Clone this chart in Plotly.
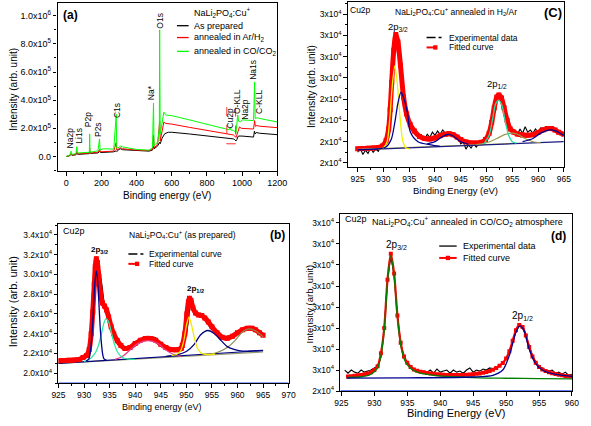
import numpy as np
import plotly.graph_objects as go

W, H = 591, 426
FONT = "Liberation Sans, Arial, sans-serif"

# ---------------- Panel (a): survey spectra (y in units of 1e5) ----------------
a_black_x = [0, 20, 28, 32, 55, 60, 65, 100, 130, 133, 137, 180, 190, 195, 230, 270, 283, 287, 300, 308, 320, 400, 470,
             490, 495, 500, 520, 530, 534, 545, 560, 580, 600, 700, 800, 900, 950, 958, 965, 970, 978, 1000, 1065, 1070,
             1074, 1080, 1100, 1200]
a_black_y = [0.0, 0.05, 0.15, 0.08, 0.12, 0.25, 0.15, 0.18, 0.2, 0.35, 0.22, 0.25, 0.35, 0.28, 0.3, 0.33, 0.4, 0.35, 0.5,
             0.55, 0.48, 0.4, 0.38, 0.45, 0.7, 0.55, 0.75, 1.0, 0.9, 1.3, 1.62, 1.72, 1.72, 1.6, 1.47, 1.33, 1.25, 1.2, 1.1,
             1.2, 1.45, 1.45, 1.38, 1.8, 1.6, 1.7, 1.65, 1.55]
a_red_x = [0, 20, 28, 32, 55, 60, 65, 100, 132, 133, 135, 180, 190, 195, 230, 270, 284, 287, 300, 308, 320, 400, 470, 490,
           496, 500, 520, 531, 534, 545, 555, 565, 600, 700, 800, 900, 950, 958, 965, 972, 985, 995, 1065, 1071, 1075,
           1085, 1100, 1200]
a_red_y = [0.0, 0.08, 0.2, 0.1, 0.15, 0.35, 0.18, 0.2, 0.25, 0.6, 0.25, 0.3, 0.5, 0.33, 0.35, 0.38, 1.0, 0.45, 0.55, 0.62,
           0.55, 0.45, 0.42, 0.5, 1.5, 0.6, 0.9, 2.5, 1.1, 1.8, 2.45, 2.35, 2.3, 2.07, 1.85, 1.65, 1.53, 1.45, 1.35, 1.6,
           2.1, 2.0, 1.95, 2.55, 2.15, 2.2, 2.15, 2.05]
a_green_x = [0, 20, 27, 30, 55, 60, 64, 100, 131, 133, 135, 180, 189, 192, 210, 270, 284, 287, 300, 308, 320, 400, 470,
             490, 496, 499, 520, 529, 531, 534, 548, 555, 565, 600, 700, 800, 900, 925, 932, 936, 950, 958, 965, 970,
             975, 980, 990, 1000, 1065, 1071, 1074, 1085, 1100, 1200]
a_green_y = [0.0, 0.1, 0.38, 0.15, 0.2, 0.7, 0.25, 0.25, 0.3, 1.6, 0.3, 0.4, 1.25, 0.45, 0.55, 0.52, 3.0, 0.6, 0.65, 0.75,
             0.68, 0.5, 0.45, 0.6, 3.8, 0.8, 1.0, 2.0, 9.0, 1.6, 2.8, 3.15, 2.95, 2.9, 2.6, 2.3, 2.0, 1.9, 2.05, 1.88, 1.85,
             1.8, 1.65, 2.3, 2.95, 2.5, 2.45, 2.6, 2.55, 5.3, 2.7, 2.75, 2.7, 2.45]
a_peak_labels = ["Na2p", "Li1s", "P2p", "P2s", "C1s", "Na*", "O1s", "Cu2p", "O-KLL", "Na2p", "Na1s", "C-KLL"]
a_peak_x = [22, 72, 123, 184, 289, 486, 532, 933, 974, 1016, 1062, 1099]
a_peak_y = [0.48, 0.84, 2.04, 1.32, 2.63, 3.95, 9.0, 1.9, 2.95, 2.57, 5.38, 2.92]
a_yticks = [0, 2, 4, 6, 8, 10]
a_yticktext = ["0.0", "2.0x10<sup>5</sup>", "4.0x10<sup>5</sup>", "6.0x10<sup>5</sup>", "8.0x10<sup>5</sup>",
               "1.0x10<sup>6</sup>"]

# ---------------- Panel (b): Cu2p as prepared (y in units of 1e4) ----------------
b_exp_x = list(range(925, 966))
b_exp_y = [2.10, 2.11, 2.115, 2.12, 2.13, 2.16, 2.25, 2.95, 3.0, 2.69, 2.52, 2.38, 2.29, 2.255, 2.27, 2.30, 2.33, 2.35,
           2.365, 2.36, 2.30, 2.26, 2.245, 2.255, 2.25, 2.40, 2.72, 2.60, 2.57, 2.51, 2.44, 2.39, 2.36, 2.375, 2.385,
           2.42, 2.445, 2.46, 2.455, 2.42, 2.38]
b_fit_x = [925, 926, 927, 928, 929, 929.8, 930.5, 931, 931.4, 931.7, 932.0, 932.2, 932.4, 932.6, 932.9, 933.2, 933.6,
           934.0, 934.4, 934.8, 935.3, 935.8, 936.5, 937.2, 938, 939, 940, 941, 942, 943, 944, 945, 946, 947, 948, 949,
           949.2, 949.7, 950.1, 950.4, 950.6, 950.9, 951.3, 951.8, 952.4, 953.0, 953.6, 954.3, 955, 956, 957, 958, 959,
           960, 961, 962, 962.8, 963.5, 964.3, 965]
b_fit_y = [2.127, 2.129, 2.131, 2.133, 2.14, 2.16, 2.18, 2.24, 2.40, 2.62, 2.90, 3.08, 3.16, 3.12, 2.98, 2.82, 2.71,
           2.68, 2.64, 2.57, 2.47, 2.40, 2.33, 2.28, 2.25, 2.262, 2.30, 2.333, 2.353, 2.353, 2.333, 2.293, 2.26, 2.24,
           2.237, 2.25, 2.28, 2.40, 2.60, 2.72, 2.76, 2.74, 2.66, 2.61, 2.59, 2.585, 2.56, 2.52, 2.47, 2.41, 2.365,
           2.355, 2.375, 2.41, 2.44, 2.455, 2.455, 2.44, 2.41, 2.385]
b_c1_x = [930.4, 930.9, 931.15, 931.4, 931.65, 931.9, 932.15, 932.4, 932.65, 932.9, 933.15, 933.4, 933.65, 933.9, 934.4]
b_c1_y = [2.126, 2.14, 2.186, 2.30, 2.47, 2.715, 2.94, 3.033, 2.94, 2.715, 2.47, 2.30, 2.19, 2.145, 2.13]
b_c2_x = [930, 931, 932, 932.8, 933.4, 933.9, 934.3, 934.8, 935.3, 935.9, 936.6, 937.5, 938.5, 940]
b_c2_y = [2.12, 2.14, 2.19, 2.28, 2.40, 2.51, 2.553, 2.52, 2.42, 2.30, 2.21, 2.16, 2.145, 2.14]
b_c3_x = [936, 937.5, 939, 940.5, 942.5, 944.5, 946, 947.5, 949]
b_c3_y = [2.14, 2.17, 2.235, 2.30, 2.33, 2.30, 2.235, 2.19, 2.17]
b_c4_x = [947.1, 948.1, 948.9, 949.5, 950.0, 950.5, 951.0, 951.6, 952.2, 953.0, 954.1, 955.6]
b_c4_y = [2.18, 2.19, 2.23, 2.33, 2.48, 2.567, 2.49, 2.35, 2.25, 2.20, 2.19, 2.195]
b_c5_x = [946, 948, 950, 951.5, 952.8, 954.2, 955.5, 956.8, 958, 959.5, 961, 963, 965]
b_c5_y = [2.17, 2.185, 2.22, 2.29, 2.39, 2.433, 2.40, 2.33, 2.27, 2.24, 2.225, 2.227, 2.232]
b_c6_x = [954, 956, 958, 959.5, 961, 962.3, 963.5, 964.3, 965]
b_c6_y = [2.19, 2.21, 2.26, 2.33, 2.42, 2.45, 2.43, 2.40, 2.37]
b_base1_x = [925, 965]
b_base1_y = [2.10, 2.23]
b_base2_x = [925, 965]
b_base2_y = [2.10, 2.215]
b_yticks = [2.0, 2.2, 2.4, 2.6, 2.8, 3.0, 3.2, 3.4]
b_yticktext = ["2.0x10<sup>4</sup>", "2.2x10<sup>4</sup>", "2.4x10<sup>4</sup>", "2.6x10<sup>4</sup>",
               "2.8x10<sup>4</sup>", "3.0x10<sup>4</sup>", "3.2x10<sup>4</sup>", "3.4x10<sup>4</sup>"]

# ---------------- Panel (c): Cu2p annealed in H2/Ar ----------------
c_exp_x = list(np.arange(925, 965.01, 0.5))
c_exp_y = [2.25, 2.27, 2.24, 2.26, 2.245, 2.27, 2.25, 2.265, 2.255, 2.28, 2.28, 2.31, 2.36, 2.54, 2.73, 2.80, 2.73,
           2.60, 2.50, 2.43, 2.39, 2.37, 2.35, 2.34, 2.32, 2.325, 2.31, 2.335, 2.32, 2.345, 2.33, 2.35, 2.335, 2.355,
           2.34, 2.345, 2.33, 2.335, 2.315, 2.32, 2.29, 2.30, 2.265, 2.285, 2.27, 2.29, 2.275, 2.29, 2.285, 2.30, 2.32,
           2.34, 2.39, 2.46, 2.51, 2.525, 2.50, 2.45, 2.40, 2.37, 2.35, 2.355, 2.335, 2.36, 2.34, 2.37, 2.345, 2.355,
           2.34, 2.36, 2.345, 2.365, 2.36, 2.37, 2.36, 2.37, 2.355, 2.36, 2.34, 2.345, 2.33]
c_fit_x = [925, 926, 927, 928, 929, 929.8, 930.5, 931.0, 931.3, 931.6, 932.0, 932.4, 932.8, 933.3, 933.9, 934.5, 935.2,
           936, 937, 938, 939, 940, 941, 942, 942.7, 943.5, 944.3, 945, 946, 947, 948, 949, 949.8, 950.5, 951, 951.5,
           952, 952.4, 952.9, 953.4, 954, 954.6, 955.3, 956, 957, 958, 959, 960, 961, 962, 962.6, 963.3, 964, 965]
c_fit_y = [2.267, 2.268, 2.269, 2.270, 2.273, 2.280, 2.305, 2.36, 2.45, 2.58, 2.73, 2.804, 2.77, 2.66, 2.51, 2.43, 2.38,
           2.35, 2.325, 2.315, 2.313, 2.318, 2.328, 2.335, 2.337, 2.333, 2.322, 2.31, 2.299, 2.294, 2.294, 2.297, 2.31,
           2.34, 2.39, 2.46, 2.51, 2.52, 2.505, 2.46, 2.40, 2.36, 2.345, 2.336, 2.332, 2.33, 2.333, 2.343, 2.356, 2.362,
           2.362, 2.355, 2.345, 2.335]
c_y_x = [929, 930, 930.7, 931.2, 931.7, 932.2, 932.7, 933.2, 933.7, 934.3, 935]
c_y_y = [2.265, 2.272, 2.30, 2.40, 2.56, 2.657, 2.57, 2.42, 2.31, 2.272, 2.266]
c_b1_x = [925, 929, 930.5, 931.5, 932.2, 932.8, 933.4, 934, 934.7, 935.2, 936.7, 939.2, 941]
c_b1_y = [2.263, 2.266, 2.275, 2.31, 2.39, 2.48, 2.533, 2.50, 2.43, 2.347, 2.30, 2.285, 2.278]
c_b2_x = [938.5, 940, 941.5, 942.5, 943.5, 945, 946.5]
c_b2_y = [2.29, 2.30, 2.325, 2.334, 2.327, 2.30, 2.288]
c_b3_x = [957, 959, 960.5, 962.3, 963.5, 965]
c_b3_y = [2.30, 2.315, 2.34, 2.356, 2.35, 2.33]
c_g_x = [949.5, 950.5, 951.2, 951.8, 952.4, 953, 953.6, 954.3, 955, 955.8]
c_g_y = [2.29, 2.33, 2.41, 2.48, 2.494, 2.47, 2.40, 2.33, 2.30, 2.293]
c_o_x = [948, 950, 952, 953.5, 954.8, 956, 957.5, 959, 960.5]
c_o_y = [2.287, 2.295, 2.315, 2.333, 2.34, 2.335, 2.315, 2.30, 2.296]
c_base1_x = [925, 965]
c_base1_y = [2.262, 2.300]
c_base2_x = [925, 955]
c_base2_y = [2.264, 2.292]
c_yticks = [2.2, 2.3, 2.4, 2.5, 2.6, 2.7, 2.8, 2.9]
c_yticktext = ["2x10<sup>4</sup>"] * 4 + ["3x10<sup>4</sup>"] * 4

# ---------------- Panel (d): Cu2p annealed in CO/CO2 ----------------
d_exp_x = list(np.arange(925.5, 960.01, 0.5))
d_exp_y = [2.50, 2.485, 2.50, 2.49, 2.485, 2.50, 2.49, 2.495, 2.50, 2.51, 2.52, 2.56, 2.70, 2.93, 3.04, 2.95, 2.76,
           2.63, 2.56, 2.535, 2.52, 2.505, 2.50, 2.49, 2.495, 2.49, 2.50, 2.485, 2.505, 2.49, 2.495, 2.50, 2.485, 2.50,
           2.49, 2.495, 2.485, 2.50, 2.51, 2.49, 2.50, 2.495, 2.505, 2.50, 2.51, 2.505, 2.515, 2.52, 2.535, 2.555,
           2.59, 2.635, 2.685, 2.71, 2.70, 2.665, 2.615, 2.57, 2.54, 2.515, 2.51, 2.50, 2.495, 2.50, 2.485, 2.49,
           2.48, 2.49, 2.475, 2.48]
d_fit_x = list(np.arange(926, 960.01, 0.5))
d_fit_y = [2.469, 2.471, 2.473, 2.475, 2.477, 2.480, 2.484, 2.490, 2.500, 2.518, 2.58, 2.70, 2.93, 3.054, 2.96, 2.76,
           2.63, 2.565, 2.535, 2.515, 2.503, 2.497, 2.492, 2.489, 2.486, 2.484, 2.482, 2.480, 2.479, 2.478, 2.477,
           2.476, 2.476, 2.476, 2.476, 2.477, 2.478, 2.479, 2.480, 2.482, 2.484, 2.487, 2.491, 2.496, 2.502, 2.510,
           2.520, 2.533, 2.555, 2.59, 2.64, 2.69, 2.715, 2.705, 2.665, 2.61, 2.565, 2.535, 2.515, 2.503, 2.495, 2.489,
           2.485, 2.481, 2.478, 2.475, 2.472, 2.470, 2.468]
d_g_x = [925.8, 928, 929.5, 930.5, 931, 931.5, 932, 932.5, 933, 933.5, 934, 934.5, 935, 936, 937, 939, 942, 946, 950,
         955, 960]
d_g_y = [2.465, 2.468, 2.48, 2.51, 2.57, 2.69, 2.92, 3.045, 2.95, 2.75, 2.62, 2.555, 2.525, 2.497, 2.485, 2.475, 2.468,
         2.463, 2.461, 2.459, 2.458]
d_b_x = [925.8, 935, 945, 948, 949.5, 950.5, 951.5, 952.1, 952.7, 953.5, 954.5, 955.5, 957, 960]
d_b_y = [2.462, 2.463, 2.467, 2.475, 2.50, 2.57, 2.68, 2.71, 2.69, 2.60, 2.53, 2.50, 2.483, 2.47]
d_yticks = [2.4, 2.5, 2.6, 2.7, 2.8, 2.9, 3.0, 3.1, 3.2]
d_yticktext = ["2x10<sup>4</sup>"] + ["3x10<sup>4</sup>"] * 8

fig = go.Figure()


def line(x, y, color, width=1.2, ax="", shape="linear", dash="solid"):
    fig.add_trace(go.Scatter(x=x, y=y, mode="lines", xaxis="x" + ax, yaxis="y" + ax, showlegend=False,
                             hoverinfo="skip",
                             line=dict(color=color, width=width, shape=shape, dash=dash, smoothing=0.8)))


def fit(x, y, ax, lw, ms):
    fig.add_trace(go.Scatter(x=x, y=y, mode="lines+markers", xaxis="x" + ax, yaxis="y" + ax, showlegend=False,
                             hoverinfo="skip", line=dict(color="#ff0000", width=lw, shape="spline", smoothing=0.8),
                             marker=dict(symbol="square", size=ms, color="#ff0000")))


# (a)
line(a_black_x, a_black_y, "#000000", 1.0)
line(a_red_x, a_red_y, "#ff0000", 1.0)
line(a_green_x, a_green_y, "#00ff00", 1.0)

# (b)
line(b_base2_x, b_base2_y, "#9a9a70", 1.2, "2")
line(b_base1_x, b_base1_y, "#000080", 1.2, "2")
line(b_exp_x, b_exp_y, "#000000", 1.2, "2", "spline")
fit(b_fit_x, b_fit_y, "2", 5, 5)
line(b_c3_x, b_c3_y, "#e8408a", 1.2, "2", "spline")
line(b_c6_x, b_c6_y, "#8a8a50", 1.2, "2", "spline")
line(b_c5_x, b_c5_y, "#000080", 1.3, "2", "spline")
line(b_c2_x, b_c2_y, "#2ee8a0", 1.3, "2", "spline")
line(b_c4_x, b_c4_y, "#f5e600", 1.3, "2", "spline")
line(b_c1_x, b_c1_y, "#000090", 1.3, "2", "spline")
line([925, 970], [1.9, 1.9], "#3050ff", 1.5, "2")

# (c)
line(c_exp_x, c_exp_y, "#000000", 1.1, "3")
fit(c_fit_x, c_fit_y, "3", 5, 5)
line(c_base2_x, c_base2_y, "#c8c060", 1.2, "3")
line(c_base1_x, c_base1_y, "#1a1a80", 1.2, "3")
line(c_o_x, c_o_y, "#9a9a50", 1.2, "3", "spline")
line(c_g_x, c_g_y, "#22e0a0", 1.3, "3", "spline")
line(c_b2_x, c_b2_y, "#000090", 1.3, "3", "spline")
line(c_b3_x, c_b3_y, "#000090", 1.3, "3", "spline")
line(c_y_x, c_y_y, "#f0f000", 1.3, "3", "spline")
line(c_b1_x, c_b1_y, "#000090", 1.3, "3", "spline")

# (d)
line(d_exp_x, d_exp_y, "#000000", 1.1, "4")
fit(d_fit_x, d_fit_y, "4", 2.2, 4)
line(d_g_x, d_g_y, "#008000", 1.3, "4", "spline")
line(d_b_x, d_b_y, "#000090", 1.3, "4", "spline")
line([924.85, 960], [2.4, 2.4], "#3050ff", 1.5, "4")


def axis(domain, rng, size, anchor, dtick=None, tick0=None, tickvals=None, ticktext=None, minor=None):
    d = dict(domain=domain, range=rng, anchor=anchor, showline=True, linecolor="black", linewidth=1.4,
             mirror=True, ticks="outside", ticklen=3.5, tickwidth=1, tickcolor="black", showgrid=False,
             zeroline=False, tickfont=dict(family=FONT, size=size, color="black"))
    if dtick is not None:
        d.update(dtick=dtick, tick0=tick0)
    if tickvals is not None:
        d.update(tickmode="array", tickvals=tickvals, ticktext=ticktext)
    if minor is not None:
        d["minor"] = dict(ticks="outside", ticklen=2, dtick=minor, tickcolor="black", showgrid=False)
    return d


layout = dict(
    width=W, height=H, margin=dict(l=0, r=0, t=0, b=0), paper_bgcolor="white", plot_bgcolor="white",
    showlegend=False, font=dict(family=FONT, color="black"),
    xaxis=axis([52 / W, 278.3 / W], [-50, 1200], 9, "y", dtick=200, tick0=0, minor=100),
    yaxis=axis([1 - 173 / H, 1 - 2.7 / H], [-1.03, 10.93], 9, "x", tickvals=a_yticks, ticktext=a_yticktext, minor=1),
    xaxis2=axis([53 / W, 290 / W], [925, 970], 8.5, "y2", dtick=5, tick0=925, minor=2.5),
    yaxis2=axis([1 - 387.7 / H, 1 - 226.7 / H], [1.9, 3.51], 8.5, "x2", tickvals=b_yticks, ticktext=b_yticktext,
                minor=0.1),
    xaxis3=axis([351 / W, 573.3 / W], [923.1, 965], 8.5, "y3", dtick=5, tick0=925, minor=2.5),
    yaxis3=axis([1 - 169 / H, 1 - 2 / H], [2.181, 2.957], 8.5, "x3", tickvals=c_yticks, ticktext=c_yticktext,
                minor=0.05),
    xaxis4=axis([343.3 / W, 581.7 / W], [924.85, 960], 8.5, "y4", dtick=5, tick0=925),
    yaxis4=axis([1 - 395.7 / H, 1 - 216.7 / H], [2.4, 3.242], 8.5, "x4", tickvals=d_yticks, ticktext=d_yticktext),
)

anns = []
shapes = []


def txt(s, x, y, size=9, xa="left", ya="middle", angle=0):
    anns.append(dict(text=s, x=x / W, y=1 - y / H, xref="paper", yref="paper", xanchor=xa, yanchor=ya,
                     showarrow=False, textangle=angle, borderpad=0,
                     font=dict(size=size, family=FONT, color="black")))


def seg(x0, x1, y, color, width=1.3, dash="solid"):
    shapes.append(dict(type="line", xref="paper", yref="paper", x0=x0 / W, x1=x1 / W, y0=1 - y / H, y1=1 - y / H,
                       line=dict(color=color, width=width, dash=dash)))


def sq(x, y, s=2.2, color="#ff0000"):
    shapes.append(dict(type="rect", xref="paper", yref="paper", x0=(x - s) / W, x1=(x + s) / W, y0=1 - (y + s) / H,
                       y1=1 - (y - s) / H, line=dict(width=0), fillcolor=color))


# (a) texts
for lab, xv, yv in zip(a_peak_labels, a_peak_x, a_peak_y):
    anns.append(dict(text=lab, x=xv, y=yv, xref="x", yref="y", xanchor="center", yanchor="bottom", textangle=-90,
                     showarrow=False, borderpad=0, font=dict(size=8.5, family=FONT, color="black")))
shapes.append(dict(type="rect", xref="x", yref="y", x0=913, x1=963, y0=0.9, y1=3.5,
                   line=dict(color="#ff3030", width=1, dash="dash")))
txt("<b>(a)</b>", 57, 15, 12)
txt("NaLi<sub>2</sub>PO<sub>4</sub>:Cu<sup>+</sup>", 192, 13, 9)
seg(175, 187, 26, "#000000")
seg(175, 187, 38, "#ff0000")
seg(175, 187, 52, "#00ff00")
txt("As prepared", 191.7, 26, 9)
txt("annealed in Ar/H<sub>2</sub>", 191.7, 38, 9)
txt("annealed in CO/CO<sub>2</sub>", 191.7, 52, 9)
txt("Binding energy (eV)", 165, 198, 10, "center")
txt("Intensity (arb. unit)", 7, 90, 10, "center", angle=-90)

# (b) texts
txt("Cu2p", 57, 234, 9)
txt("NaLi<sub>2</sub>PO<sub>4</sub>:Cu<sup>+</sup> (as prepared)", 125, 237, 8.5)
txt("<b>(b)</b>", 287, 238, 12, "right")
seg(125, 143, 257, "#000000", 1.5, "dashdot")
txt("Experimental curve", 145, 257, 8.5)
seg(125, 143, 267, "#ff0000", 2, "dash")
sq(134, 267)
txt("Fitted curve", 145, 267, 8.5)
txt("<b>2p<sub>3/2</sub></b>", 95, 253, 8, "center")
txt("<b>2p<sub>1/2</sub></b>", 194, 292, 8, "center")
txt("Binding energy (eV)", 160, 412, 9, "center")
txt("Intensity (arb. unit)", 7, 305, 11, "center", angle=-90)

# (c) texts
txt("Cu2p", 352, 10, 8.5)
txt("NaLi<sub>2</sub>PO<sub>4</sub>:Cu<sup>+</sup> annealed in H<sub>2</sub>/Ar", 398, 12, 8.5)
txt("<b>(C)</b>", 572, 13, 13, "right")
seg(432, 450, 38, "#000000", 1.5, "dashdot")
txt("Experimental data", 454, 38, 8.5)
seg(432, 450, 48, "#ff0000", 2, "dash")
sq(441, 48)
txt("Fitted curve", 454, 48, 8.5)
txt("2p<sub>3/2</sub>", 403, 27, 9.5, "center")
txt("2p<sub>1/2</sub>", 505, 85, 9.5, "center")
txt("Binding Energy (eV)", 462, 193, 9.5, "center")
txt("Intensity (arb. unit)", 314, 87, 10, "center", angle=-90)

# (d) texts
txt("Cu2p", 347, 222, 9)
txt("NaLi<sub>2</sub>PO<sub>4</sub>:Cu<sup>+</sup> annealed in CO/CO<sub>2</sub> atmosphere", 375, 224, 9)
txt("<b>(d)</b>", 577, 239, 12, "right")
seg(445, 463, 249, "#333333", 1.6)
txt("Experimental data", 468, 249, 9)
seg(445, 463, 261, "#ff0000", 2)
sq(454, 261)
txt("Fitted curve", 468, 261, 9)
txt("2p<sub>3/2</sub>", 401, 248, 10, "center")
txt("2p<sub>1/2</sub>", 531, 320, 10, "center")
txt("Binding Energy (eV)", 462, 418, 11, "center")
txt("Intensity (arb. unit)", 311, 308, 9.5, "center", angle=-90)

layout["annotations"] = anns
layout["shapes"] = shapes
fig.update_layout(**layout)
fig.write_html("out.html", config={"displayModeBar": False},
               post_script="document.body.style.margin='0';document.body.style.overflow='hidden';")
